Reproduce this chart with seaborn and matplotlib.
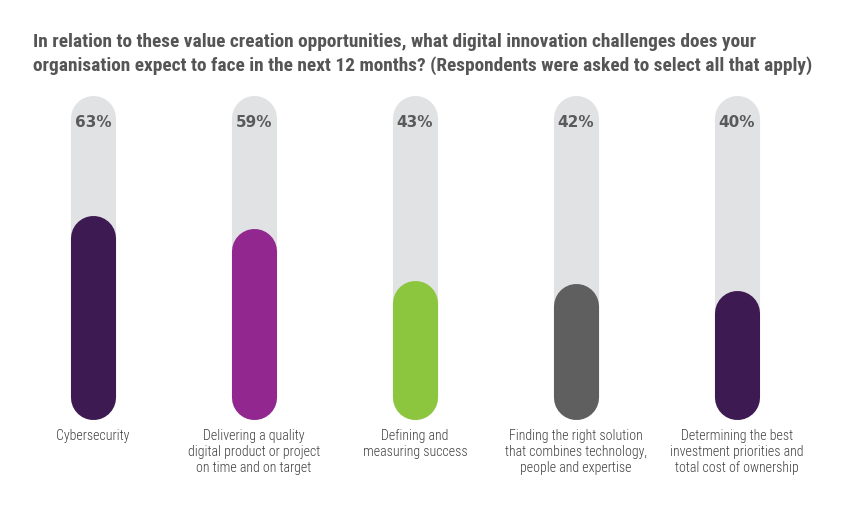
import matplotlib
matplotlib.use("Agg")
import matplotlib.pyplot as plt
import seaborn as sns
import pandas as pd
from matplotlib import font_manager

# data
categories = [
    "Cybersecurity",
    "Delivering a quality\ndigital product or project\non time and on target",
    "Defining and\nmeasuring success",
    "Finding the right solution\nthat combines technology,\npeople and expertise",
    "Determining the best\ninvestment priorities and\ntotal cost of ownership",
]
values = [63, 59, 43, 42, 40]
track = [100, 100, 100, 100, 100]

colors = ["#3d1a52", "#92278f", "#8cc63f", "#5f5f5f", "#3d1a52"]

title = ("In relation to these value creation opportunities, what digital innovation challenges does your\n"
         "organisation expect to face in the next 12 months? (Respondents were asked to select all that apply)")


def pick(cands):
    for c in cands:
        try:
            font_manager.findfont(c, fallback_to_default=False)
            return c
        except ValueError:
            pass
    return "DejaVu Sans"


cond_font = pick(["Roboto Condensed", "Liberation Sans Narrow", "Roboto", "Open Sans"])

df = pd.DataFrame({"challenge": categories, "value": values, "track": track})

sns.set_theme(style="white")
plt.rcParams["font.family"] = [cond_font, "DejaVu Sans"]

fig = plt.figure(figsize=(8.5, 5.1), dpi=100)
ax = fig.add_axes([12.5 / 850, 89 / 510, 805 / 850, 325 / 510])

sns.barplot(data=df, x="challenge", y="track", color="#e1e2e4", width=0.28,
            saturation=1, ax=ax)
sns.barplot(data=df, x="challenge", y="value", hue="challenge", palette=colors,
            width=0.28, saturation=1, legend=False, ax=ax)
ax.set_xlim(-0.5, 4.5)
ax.set_ylim(0, 100)

# redraw each flat bar as a pill (thick line with round caps)
(x0, y0), (x1, y1) = ax.transData.transform([(0, 0), (1, 1)])
xpx, ypx = abs(x1 - x0), abs(y1 - y0)
for p in list(ax.patches):
    x, y, w, h = p.get_x(), p.get_y(), p.get_width(), p.get_height()
    wpx = w * xpx
    r = (wpx / 2) / ypx
    ax.plot([x + w / 2, x + w / 2], [y + r, y + h - r], color=p.get_facecolor(),
            lw=wpx * 72 / fig.dpi, solid_capstyle="round", zorder=p.get_zorder())
    p.remove()

for i, v in enumerate(values):
    ax.text(i, 91.7, f"{v}%", ha="center", va="center", fontsize=11,
            fontweight="bold", color="#5a5a5a", family=["DejaVu Sans"], zorder=5)

ax.set_xlabel("")
ax.set_ylabel("")
ax.set_yticks([])
ax.tick_params(axis="x", length=0, pad=6, labelsize=10, labelcolor="#3f3f3f")
for t in ax.get_xticklabels():
    t.set_linespacing(1.18)
    t.set_va("top")
    t.set_fontweight("light")
sns.despine(ax=ax, left=True, bottom=True)

ttl = fig.text(33 / 850, 1 - 33 / 510, title, ha="left", va="top", fontsize=12,
               fontweight="bold", color="#555555", linespacing=1.35,
               family=[cond_font, "DejaVu Sans"])

# fit the title width to the reference (about 780 px)
fig.canvas.draw()
bw = ttl.get_window_extent().width
ttl.set_fontsize(12 * 780 / bw)

fig.savefig("out.png", dpi=100)
